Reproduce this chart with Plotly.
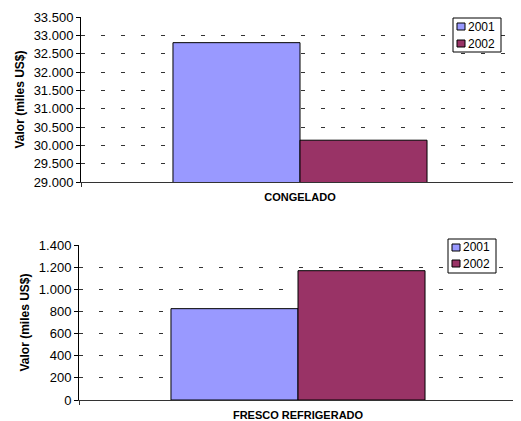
import plotly.graph_objects as go
from plotly.subplots import make_subplots

# page is offset by the body margin, so the figure is drawn a bit smaller
OFF = 8
W, H = 521 - OFF, 421 - OFF

years = ["2001", "2002"]
colors = ["#9999FF", "#993366"]

cat_top = ["CONGELADO"]
top_2001 = [32800]
top_2002 = [30140]

cat_bottom = ["FRESCO REFRIGERADO"]
bottom_2001 = [825]
bottom_2002 = [1168]

FONT = "Liberation Sans, Arial, sans-serif"


def px_x(v):
    return (v - OFF) / W


def px_y(v):
    return 1 - (v - OFF) / H


fig = make_subplots(rows=2, cols=1)

for i, (name, vals) in enumerate(zip(years, [top_2001, top_2002])):
    fig.add_trace(go.Bar(x=cat_top, y=vals, name=name, marker_color=colors[i],
                         marker_line=dict(color="#000000", width=1),
                         showlegend=False), 1, 1)
for i, (name, vals) in enumerate(zip(years, [bottom_2001, bottom_2002])):
    fig.add_trace(go.Bar(x=cat_bottom, y=vals, name=name, marker_color=colors[i],
                         marker_line=dict(color="#000000", width=1),
                         showlegend=False), 2, 1)

common_y = dict(
    automargin=False,
    showline=True, linecolor="#000000", linewidth=1,
    ticks="outside", ticklen=4, tickcolor="#000000",
    showgrid=True, gridcolor="#333333", griddash="4px,16px", gridwidth=1,
    tickformat=",.0f", zeroline=False,
    tickfont=dict(family=FONT, size=13, color="#000000"),
    title=dict(text="Valor (miles US$)", standoff=6,
               font=dict(family=FONT, size=12, color="#000000", weight="bold")),
)
common_x = dict(
    automargin=False,
    showline=True, linecolor="#333333", linewidth=1,
    ticks="outside", ticklen=4, tickcolor="#333333", tickson="boundaries",
    showgrid=False, ticklabelstandoff=5,
    tickfont=dict(family=FONT, size=11, color="#000000", weight="bold"),
)

fig.update_xaxes(common_x)
fig.update_yaxes(common_y)
fig.update_xaxes(domain=[px_x(81), px_x(519)], row=1, col=1)
fig.update_yaxes(domain=[px_y(182), px_y(17)], range=[29000, 33500], dtick=500, row=1, col=1)
fig.update_xaxes(domain=[px_x(79), px_x(517)], row=2, col=1)
fig.update_yaxes(domain=[px_y(400), px_y(245)], range=[0, 1400], dtick=200, row=2, col=1)

# legends drawn as boxes with swatches
shapes = []
annotations = []
for (bx0, by0, bx1, by1, sx, sy) in [(453, 18, 501, 52, 457, [23, 40]),
                                      (448, 239, 496, 273, 452, [244, 260])]:
    shapes.append(dict(type="rect", xref="paper", yref="paper",
                       x0=px_x(bx0), x1=px_x(bx1), y0=px_y(by1), y1=px_y(by0),
                       line=dict(color="#000000", width=1), fillcolor="#FFFFFF",
                       layer="above"))
    for j, name in enumerate(years):
        shapes.append(dict(type="rect", xref="paper", yref="paper",
                           x0=px_x(sx), x1=px_x(sx + 8), y0=px_y(sy[j] + 7), y1=px_y(sy[j]),
                           line=dict(color="#000000", width=1), fillcolor=colors[j],
                           layer="above"))
        annotations.append(dict(text=name, xref="paper", yref="paper",
                                x=px_x(sx + 9), y=px_y(sy[j] + 3.5),
                                xanchor="left", yanchor="middle", showarrow=False,
                                font=dict(family=FONT, size=12, color="#000000")))

fig.update_layout(
    width=W, height=H,
    margin=dict(l=0, r=0, t=0, b=0),
    paper_bgcolor="#FFFFFF", plot_bgcolor="#FFFFFF",
    barmode="group", bargap=0.42, bargroupgap=0,
    separators=",.",
    shapes=shapes, annotations=annotations,
    showlegend=False,
)

fig.write_html("out.html")
